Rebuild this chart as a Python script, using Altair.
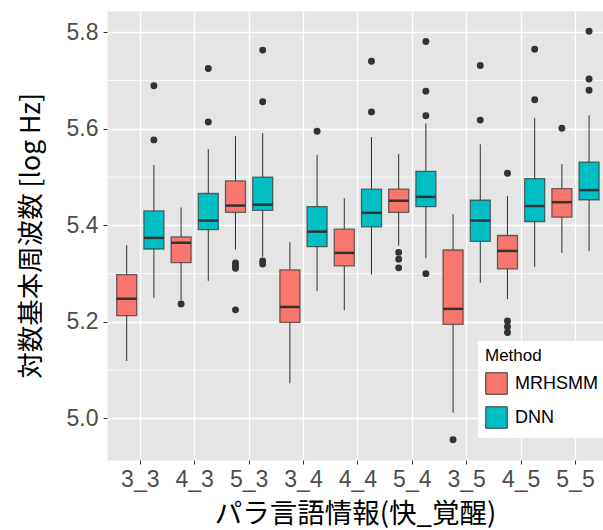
import altair as alt
import pandas as pd

categories = ["3_3", "4_3", "5_3", "3_4", "4_4", "5_4", "3_5", "4_5", "5_5"]
methods = ["MRHSMM", "DNN"]
colors = ["#F8766D", "#00BFC4"]

# MRHSMM box statistics
mr_lo = [5.119, 5.245, 5.350, 5.073, 5.224, 5.358, 5.012, 5.247, 5.343]
mr_q1 = [5.213, 5.323, 5.427, 5.199, 5.316, 5.427, 5.195, 5.310, 5.417]
mr_med = [5.248, 5.364, 5.441, 5.231, 5.343, 5.451, 5.227, 5.347, 5.448]
mr_q3 = [5.298, 5.376, 5.492, 5.308, 5.392, 5.475, 5.349, 5.379, 5.476]
mr_hi = [5.359, 5.437, 5.585, 5.365, 5.456, 5.548, 5.423, 5.461, 5.527]
mr_out = [
    [], [5.237], [5.322, 5.316, 5.311, 5.225], [], [],
    [5.344, 5.330, 5.312], [4.956], [5.508, 5.202, 5.190, 5.178], [5.601],
]

# DNN box statistics
dnn_lo = [5.250, 5.285, 5.335, 5.264, 5.298, 5.332, 5.281, 5.314, 5.347]
dnn_q1 = [5.351, 5.391, 5.431, 5.356, 5.397, 5.439, 5.367, 5.408, 5.453]
dnn_med = [5.374, 5.410, 5.443, 5.387, 5.426, 5.459, 5.410, 5.440, 5.473]
dnn_q3 = [5.430, 5.466, 5.500, 5.439, 5.475, 5.512, 5.452, 5.497, 5.531]
dnn_hi = [5.525, 5.558, 5.591, 5.546, 5.583, 5.611, 5.568, 5.622, 5.628]
dnn_out = [
    [5.689, 5.577], [5.725, 5.614], [5.763, 5.656, 5.326, 5.320], [5.595],
    [5.740, 5.635], [5.781, 5.678, 5.627, 5.300], [5.731, 5.618],
    [5.765, 5.660], [5.802, 5.703, 5.680],
]

major_ticks = [5.0, 5.2, 5.4, 5.6, 5.8]
minor_grid = [5.1, 5.3, 5.5, 5.7]

box_rows = []
out_rows = []
for m, lo, q1, med, q3, hi, outs in [
    ("MRHSMM", mr_lo, mr_q1, mr_med, mr_q3, mr_hi, mr_out),
    ("DNN", dnn_lo, dnn_q1, dnn_med, dnn_q3, dnn_hi, dnn_out),
]:
    for i, c in enumerate(categories):
        box_rows.append(dict(cat=c, method=m, lo=lo[i], q1=q1[i], med=med[i], q3=q3[i], hi=hi[i]))
        for v in outs[i]:
            out_rows.append(dict(cat=c, method=m, value=v))
box_df = pd.DataFrame(box_rows)
out_df = pd.DataFrame(out_rows)
grid_df = pd.DataFrame({"v": minor_grid})

FONT = "Liberation Sans, Noto Sans CJK JP, sans-serif"
TFONT = "Noto Sans CJK JP, sans-serif"

yscale = alt.Scale(domain=[4.914, 5.844], nice=False, zero=False)
yaxis = alt.Axis(values=major_ticks, format=".1f", title="対数基本周波数 [log Hz]",
                 titleFontSize=26.5, titlePadding=21, labelFontSize=23, titleFont=TFONT)
xscale = alt.Scale(paddingInner=0, paddingOuter=0.059, align=0.95)
xaxis = alt.Axis(title="パラ言語情報(快_覚醒)", labelAngle=0, titleFontSize=27.5,
                 labelFontSize=23, labelPadding=4, titlePadding=9, titleFont=TFONT)
X = alt.X("cat:N", sort=categories, scale=xscale, axis=xaxis)
XO = alt.XOffset("method:N", sort=methods, scale=alt.Scale(paddingInner=0, paddingOuter=0))

minor = alt.Chart(grid_df).mark_rule(color="white", strokeWidth=0.8).encode(
    y=alt.Y("v:Q", scale=yscale, axis=yaxis)
)

base = alt.Chart(box_df).encode(x=X, xOffset=XO)

whisk = base.mark_rule(color="#333333", strokeWidth=1).encode(
    y=alt.Y("lo:Q", scale=yscale, axis=yaxis), y2="hi:Q"
)
boxes = base.mark_bar(size=20, stroke="#333333", strokeOpacity=0.7, strokeWidth=1.3).encode(
    y=alt.Y("q1:Q", scale=yscale, axis=yaxis), y2="q3:Q",
    fill=alt.Fill("method:N", sort=methods,
                  scale=alt.Scale(domain=methods, range=colors),
                  legend=alt.Legend(title="Method", orient="none", legendX=371, legendY=330,
                                    fillColor="white", padding=7, titleFontSize=17,
                                    titleFontWeight="normal", titleColor="black",
                                    labelFontSize=18, labelColor="black",
                                    symbolType="square", symbolSize=460,
                                    symbolStrokeColor="#333333", symbolStrokeWidth=1,
                                    symbolOpacity=1, rowPadding=7, labelOffset=7,
                                    titlePadding=7)),
)
meds = base.mark_tick(size=20, thickness=2.5, color="#333333", opacity=1).encode(
    y=alt.Y("med:Q", scale=yscale, axis=yaxis)
)
pts = alt.Chart(out_df).mark_circle(size=48, color="#333333", opacity=1).encode(
    x=X, xOffset=XO, y=alt.Y("value:Q", scale=yscale, axis=yaxis)
)

chart = alt.layer(minor, whisk, boxes, meds, pts).properties(
    width=496, height=449,
    autosize=alt.AutoSizeParams(type="none"),
    padding={"left": 107, "top": 11, "right": 0, "bottom": 70},
).configure_view(
    fill="#E5E5E5", stroke="transparent"
).configure_axis(
    domain=False, grid=True, gridColor="white", gridWidth=1.3,
    tickColor="#333333", tickSize=4, labelColor="#4d4d4d",
    labelFont=FONT, titleFontWeight="normal", titleColor="black",
    labelPadding=5,
).configure_legend(
    labelFont=FONT, titleFont=FONT
)

chart.save("out.html", embed_options={"renderer": "svg", "actions": False})
